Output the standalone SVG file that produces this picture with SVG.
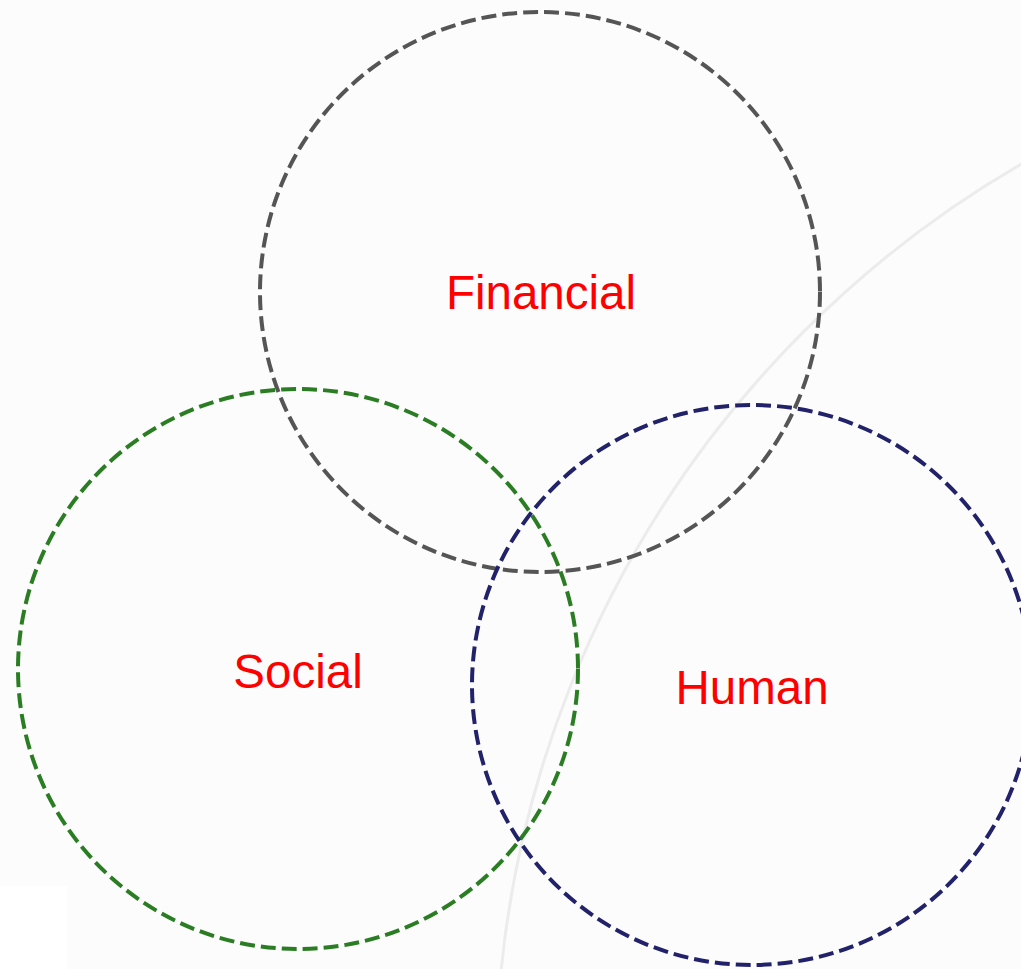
<svg xmlns="http://www.w3.org/2000/svg" width="1021" height="969" viewBox="0 0 1021 969">
<style>
.ring{fill:none;stroke-width:4;stroke-dasharray:15 6}
.lbl{font-family:"Liberation Sans",Arial,sans-serif;font-size:47.5px;fill:#ff0000;text-anchor:middle}
</style>
<rect x="0" y="0" width="1021" height="969" fill="#fcfcfc"/>
<rect x="0" y="886" width="67" height="83" fill="#ffffff"/>
<g id="connectors">
<circle cx="1548" cy="1075" r="1052" fill="none" stroke="#ececec" stroke-width="3"/>
</g>
<g id="financial">
<circle class="ring" cx="540" cy="292" r="280" stroke="#555555"/>
<text class="lbl" x="541" y="309">Financial</text>
</g>
<g id="social">
<circle class="ring" cx="298" cy="669" r="280" stroke="#2a7d22"/>
<text class="lbl" x="298" y="688">Social</text>
</g>
<g id="human">
<circle class="ring" cx="752" cy="685" r="280" stroke="#22226b"/>
<text class="lbl" x="752" y="704">Human</text>
</g>
</svg>
